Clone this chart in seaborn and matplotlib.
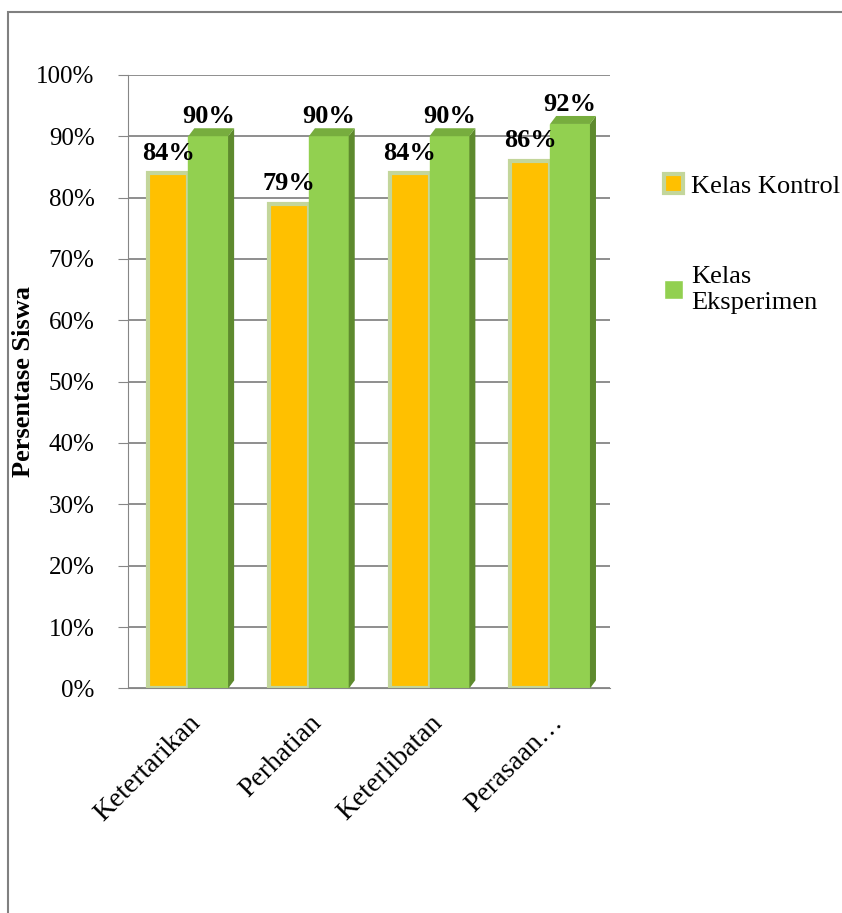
import pandas as pd
import matplotlib.pyplot as plt
import seaborn as sns
from matplotlib.patches import Rectangle, Polygon

categories = ["Ketertarikan", "Perhatian", "Keterlibatan", "Perasaan…"]
kontrol = [84, 79, 84, 86]
eksperimen = [90, 90, 90, 92]
series = ["Kelas Kontrol", "Kelas Eksperimen"]
yticks = [0, 10, 20, 30, 40, 50, 60, 70, 80, 90, 100]

def main():
    df = pd.DataFrame({
        "kategori": categories * 2,
        "nilai": kontrol + eksperimen,
        "kelas": [series[0]] * 4 + [series[1]] * 4,
    })

    sns.set_style("white")
    plt.rcParams["font.family"] = ["Liberation Serif", "DejaVu Serif"]
    plt.rcParams["text.color"] = "black"
    plt.rcParams["xtick.color"] = "black"
    plt.rcParams["ytick.color"] = "black"
    plt.rcParams["axes.labelcolor"] = "black"

    fig = plt.figure(figsize=(8.42, 9.13), dpi=100)
    fig.patches.append(Rectangle((0.010, -0.01), 1.0, 0.997, transform=fig.transFigure,
                                 fill=False, edgecolor="#808080", linewidth=1.5))
    ax = fig.add_axes([0.152, 0.246, 0.573, 0.672])

    palette = {series[0]: "#FFC000", series[1]: "#92D050"}
    sns.barplot(data=df, x="kategori", y="nilai", hue="kelas", palette=palette,
                width=0.66, ax=ax, legend=True, saturation=1)

    # give the bars a bit of the 3d look: light rim on the orange, dark side on the green
    for i, cont in enumerate(ax.containers):
        for bar in cont:
            if i == 0:
                bar.set_edgecolor("#C3D69B")
                bar.set_linewidth(3)
            else:
                bar.set_edgecolor("#92D050")
                x1 = bar.get_x() + bar.get_width()
                h = bar.get_height()
                d, dy = 0.05, 1.3
                ax.add_patch(Polygon([(x1, 0), (x1 + d, dy), (x1 + d, h + dy), (x1, h)],
                                     closed=True, facecolor="#5E8A2E", edgecolor="none", zorder=bar.zorder))
                x0 = bar.get_x()
                ax.add_patch(Polygon([(x0, h), (x0 + d, h + dy), (x1 + d, h + dy), (x1, h)],
                                     closed=True, facecolor="#77AD3E", edgecolor="none", zorder=bar.zorder))
        ax.bar_label(cont, labels=[f"{v:.0f}%" for v in cont.datavalues],
                     fontsize=19, fontweight="bold", padding=6)

    ax.set_ylim(0, 100)
    ax.set_yticks(yticks)
    ax.set_yticklabels([f"{t}%" for t in yticks], fontsize=18)
    ax.yaxis.grid(True, color="#868686", linewidth=1.3)
    ax.set_axisbelow(True)
    for s in ["top", "right"]:
        ax.spines[s].set_visible(False)
    ax.spines["left"].set_color("#868686")
    ax.spines["bottom"].set_color("#868686")
    ax.tick_params(axis="y", length=7, color="#868686", left=True, pad=17)

    ax.set_xticks(range(len(categories)))
    ax.set_xticklabels(categories, rotation=45, ha="right", rotation_mode="anchor", fontsize=20)
    ax.tick_params(axis="x", pad=12)
    ax.set_xlabel("")
    # the original overlaps the tick labels; kept just left of them instead
    ax.set_ylabel("Persentase Siswa", fontsize=19, fontweight="bold")
    ax.yaxis.set_label_coords(-0.193, 0.5)

    handles, labels = ax.get_legend_handles_labels()
    handles[0].set_edgecolor("#C3D69B")
    handles[0].set_linewidth(3)
    ax.legend(handles, ["Kelas Kontrol", "Kelas\nEksperimen"], loc="upper left",
              bbox_to_anchor=(1.09, 0.855), frameon=False, fontsize=19,
              handlelength=0.7, handleheight=0.7, labelspacing=2.6, handletextpad=0.3,
              borderaxespad=0)

    fig.savefig("out.png", dpi=100)

if __name__ == "__main__":
    main()
